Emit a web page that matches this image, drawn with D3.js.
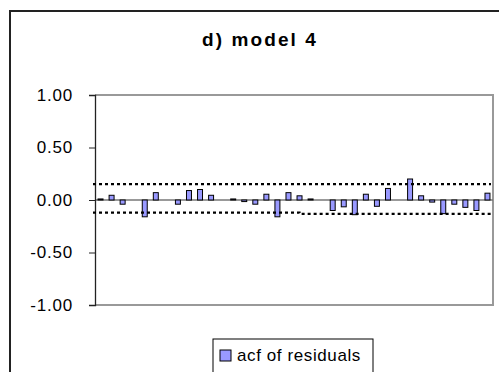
<html lang="en">
  <head>
    <meta charset="UTF-8" />
    <title>d) model 4</title>
    <script src="https://d3js.org/d3.v7.min.js"></script>
  </head>
  <style>
    body {
      margin: 0px;
      overflow: hidden;
      background: #fff;
    }
    text {
      font-family: Arial, "Liberation Sans", sans-serif;
    }
  </style>
  <body>
    <svg width="499" height="372"></svg>
  </body>
  <footer>
    <script>
      var lags = d3.range(1, 37);
      var acfValues = [
        0.01, 0.045, -0.04, 0.0, -0.16, 0.07, 0.0, -0.04, 0.09, 0.1, 0.045, 0.0,
        0.01, -0.015, -0.04, 0.055, -0.16, 0.07, 0.04, 0.01, 0.0, -0.1, -0.065, -0.14,
        0.055, -0.06, 0.11, 0.0, 0.2, 0.04, -0.02, -0.13, -0.04, -0.07, -0.1, 0.065
      ];
      var upperBand = [
        0.152, 0.152, 0.152, 0.152, 0.152, 0.152, 0.152, 0.152, 0.152, 0.152, 0.152, 0.152,
        0.152, 0.152, 0.152, 0.152, 0.152, 0.152, 0.152, 0.152, 0.152, 0.152, 0.152, 0.152,
        0.152, 0.152, 0.152, 0.152, 0.152, 0.152, 0.152, 0.152, 0.152, 0.152, 0.152, 0.152
      ];
      var lowerBand = [
        -0.12, -0.12, -0.12, -0.12, -0.12, -0.12, -0.12, -0.12, -0.12, -0.12, -0.12, -0.12,
        -0.12, -0.12, -0.12, -0.12, -0.12, -0.12, -0.133, -0.133, -0.133, -0.133, -0.133, -0.133,
        -0.133, -0.133, -0.133, -0.133, -0.133, -0.133, -0.133, -0.133, -0.133, -0.133, -0.133, -0.133
      ];
      var yTicks = [1, 0.5, 0, -0.5, -1];
      var title = "d) model 4";
      var seriesName = "acf of residuals";

      var svg = d3.select("svg");
      var plot = { left: 95, right: 493, top: 95, bottom: 305 };

      // outer chart frame
      svg
        .append("rect")
        .attr("x", 10)
        .attr("y", 11)
        .attr("width", 520)
        .attr("height", 400)
        .attr("fill", "#fff")
        .attr("stroke", "#222")
        .attr("stroke-width", 2);

      svg
        .append("text")
        .attr("x", 260)
        .attr("y", 46)
        .attr("text-anchor", "middle")
        .attr("font-size", 19)
        .attr("font-weight", "bold")
        .attr("letter-spacing", 2.1)
        .text(title);

      var xScale = d3
        .scaleBand()
        .domain(lags)
        .range([plot.left, plot.right])
        .paddingInner(0.55)
        .paddingOuter(0.275);

      var yScale = d3
        .scaleLinear()
        .domain([-1, 1])
        .range([plot.bottom, plot.top]);

      // plot area border (gray)
      svg
        .append("path")
        .attr(
          "d",
          `M${plot.left},${plot.top}H${plot.right}V${plot.bottom}H${plot.left}`
        )
        .attr("fill", "none")
        .attr("stroke", "#999")
        .attr("stroke-width", 2);

      // zero line
      svg
        .append("line")
        .attr("x1", plot.left)
        .attr("x2", plot.right)
        .attr("y1", yScale(0))
        .attr("y2", yScale(0))
        .attr("stroke", "#777")
        .attr("stroke-width", 1.5);

      // Excel style labels use a plain hyphen for negatives
      var fmt = d3.format(".2f");
      var yAxis = svg
        .append("g")
        .attr("transform", `translate(${plot.left}, 0)`)
        .call(
          d3
            .axisLeft(yScale)
            .tickValues(yTicks)
            .tickFormat(function (d) {
              return fmt(d).replace("\u2212", "-");
            })
            .tickSize(6)
            .tickPadding(16)
        );
      yAxis.select(".domain").attr("stroke", "#222").attr("stroke-width", 1.3);
      yAxis.selectAll(".tick line").attr("stroke", "#222");
      yAxis
        .selectAll(".tick text")
        .attr("font-size", 17)
        .attr("letter-spacing", 0.8)
        .attr("fill", "#000");

      svg
        .selectAll(".bar")
        .data(acfValues)
        .enter()
        .append("rect")
        .attr("class", "bar")
        .attr("x", function (d, i) {
          return xScale(lags[i]);
        })
        .attr("y", function (d) {
          return yScale(Math.max(0, d));
        })
        .attr("width", xScale.bandwidth())
        .attr("height", function (d) {
          return Math.abs(yScale(d) - yScale(0));
        })
        .attr("fill", "#9999ff")
        .attr("stroke", "#000")
        .attr("stroke-width", 1);

      // confidence bands as dotted lines, stretched to the plot edges
      function bandPoints(vals) {
        var pts = vals.map(function (v, i) {
          return [xScale(lags[i]) + xScale.bandwidth() / 2, yScale(v)];
        });
        pts.unshift([plot.left - 2, yScale(vals[0])]);
        pts.push([plot.right - 2, yScale(vals[vals.length - 1])]);
        return pts;
      }
      var line = d3.line().curve(d3.curveStepAfter);
      [upperBand, lowerBand].forEach(function (b) {
        svg
          .append("path")
          .attr("d", line(bandPoints(b)))
          .attr("fill", "none")
          .attr("stroke", "#000")
          .attr("stroke-width", 2.2)
          .attr("stroke-dasharray", "3,3");
      });

      // legend
      var legend = svg.append("g").attr("transform", "translate(213, 339)");
      legend
        .append("rect")
        .attr("width", 160)
        .attr("height", 50)
        .attr("fill", "#fff")
        .attr("stroke", "#000")
        .attr("stroke-width", 1);
      legend
        .append("rect")
        .attr("x", 7)
        .attr("y", 11)
        .attr("width", 11)
        .attr("height", 11)
        .attr("fill", "#9999ff")
        .attr("stroke", "#000")
        .attr("stroke-width", 1);
      legend
        .append("text")
        .attr("x", 24)
        .attr("y", 22)
        .attr("font-size", 17)
        .attr("letter-spacing", 0.6)
        .text(seriesName);
    </script>
  </footer>
</html>
